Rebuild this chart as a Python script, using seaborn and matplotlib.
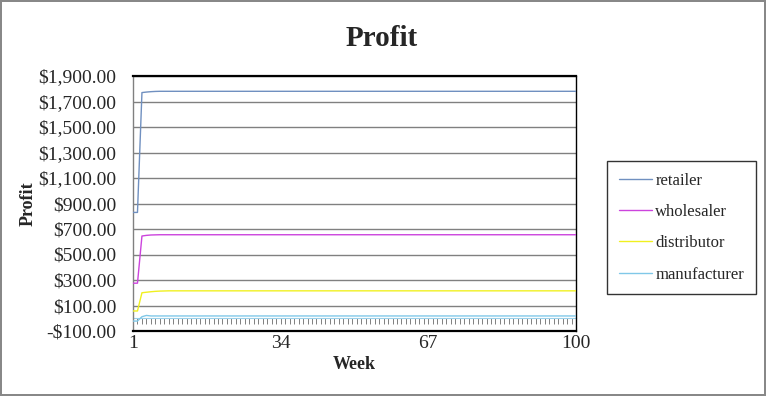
import matplotlib
matplotlib.use("Agg")
import matplotlib.pyplot as plt
import seaborn as sns
import pandas as pd
from matplotlib.ticker import FuncFormatter

weeks = list(range(1, 101))
retailer = [830, 830, 1770, 1774, 1777, 1779, 1780, 1780, 1780, 1780,
            1780, 1780, 1780, 1780, 1780, 1780, 1780, 1780, 1780, 1780,
            1780, 1780, 1780, 1780, 1780, 1780, 1780, 1780, 1780, 1780,
            1780, 1780, 1780, 1780, 1780, 1780, 1780, 1780, 1780, 1780,
            1780, 1780, 1780, 1780, 1780, 1780, 1780, 1780, 1780, 1780,
            1780, 1780, 1780, 1780, 1780, 1780, 1780, 1780, 1780, 1780,
            1780, 1780, 1780, 1780, 1780, 1780, 1780, 1780, 1780, 1780,
            1780, 1780, 1780, 1780, 1780, 1780, 1780, 1780, 1780, 1780,
            1780, 1780, 1780, 1780, 1780, 1780, 1780, 1780, 1780, 1780,
            1780, 1780, 1780, 1780, 1780, 1780, 1780, 1780, 1780, 1780]
wholesaler = [275, 275, 645, 650, 653, 654, 655, 655, 655, 655,
              655, 655, 655, 655, 655, 655, 655, 655, 655, 655,
              655, 655, 655, 655, 655, 655, 655, 655, 655, 655,
              655, 655, 655, 655, 655, 655, 655, 655, 655, 655,
              655, 655, 655, 655, 655, 655, 655, 655, 655, 655,
              655, 655, 655, 655, 655, 655, 655, 655, 655, 655,
              655, 655, 655, 655, 655, 655, 655, 655, 655, 655,
              655, 655, 655, 655, 655, 655, 655, 655, 655, 655,
              655, 655, 655, 655, 655, 655, 655, 655, 655, 655,
              655, 655, 655, 655, 655, 655, 655, 655, 655, 655]
distributor = [57, 57, 200, 204, 208, 211, 213, 214, 215, 215,
               215, 215, 215, 215, 215, 215, 215, 215, 215, 215,
               215, 215, 215, 215, 215, 215, 215, 215, 215, 215,
               215, 215, 215, 215, 215, 215, 215, 215, 215, 215,
               215, 215, 215, 215, 215, 215, 215, 215, 215, 215,
               215, 215, 215, 215, 215, 215, 215, 215, 215, 215,
               215, 215, 215, 215, 215, 215, 215, 215, 215, 215,
               215, 215, 215, 215, 215, 215, 215, 215, 215, 215,
               215, 215, 215, 215, 215, 215, 215, 215, 215, 215,
               215, 215, 215, 215, 215, 215, 215, 215, 215, 215]
manufacturer = [-22, -22, 12, 22, 18, 18, 18, 18, 18, 18,
                18, 18, 18, 18, 18, 18, 18, 18, 18, 18,
                18, 18, 18, 18, 18, 18, 18, 18, 18, 18,
                18, 18, 18, 18, 18, 18, 18, 18, 18, 18,
                18, 18, 18, 18, 18, 18, 18, 18, 18, 18,
                18, 18, 18, 18, 18, 18, 18, 18, 18, 18,
                18, 18, 18, 18, 18, 18, 18, 18, 18, 18,
                18, 18, 18, 18, 18, 18, 18, 18, 18, 18,
                18, 18, 18, 18, 18, 18, 18, 18, 18, 18,
                18, 18, 18, 18, 18, 18, 18, 18, 18, 18]
series_names = ["retailer", "wholesaler", "distributor", "manufacturer"]
colors = ["#7090c0", "#cc44dd", "#f0f020", "#80c8e8"]
x_ticks = [1, 34, 67, 100]
y_ticks = [-100, 100, 300, 500, 700, 900, 1100, 1300, 1500, 1700, 1900]

df = pd.DataFrame({
    "Week": weeks * 4,
    "Profit": retailer + wholesaler + distributor + manufacturer,
    "series": sum([[n] * len(weeks) for n in series_names], []),
})

sns.set_style("white")
plt.rcParams["font.family"] = ["Liberation Serif", "DejaVu Serif"]

fig = plt.figure(figsize=(7.66, 3.96), dpi=100)
fig.patch.set_edgecolor("#888888")
fig.patch.set_linewidth(1.5)
ax = fig.add_axes([133 / 766, 1 - 331 / 396, (576 - 133) / 766, (331 - 76) / 396])

sns.lineplot(data=df, x="Week", y="Profit", hue="series", hue_order=series_names,
             palette=colors, linewidth=1.0, ax=ax, zorder=3)

ax.set_xlim(1, 100)
ax.set_ylim(-100, 1900)
ax.set_xticks(x_ticks)
ax.set_yticks(y_ticks)
ax.yaxis.set_major_formatter(FuncFormatter(
    lambda v, p: ("-$" if v < 0 else "$") + f"{abs(v):,.2f}"))
ax.tick_params(axis="y", direction="out", length=5, width=0.8, color="#808080",
               labelsize=14, pad=7)
ax.tick_params(axis="x", length=0, labelsize=14, pad=3)
ax.grid(axis="y", color="#808080", linewidth=1.0)
ax.set_axisbelow(True)
for s in ["top", "bottom", "right"]:
    ax.spines[s].set_color("black")
ax.spines["top"].set_linewidth(1.6)
ax.spines["bottom"].set_linewidth(1.6)
ax.spines["right"].set_linewidth(1.0)
ax.spines["left"].set_color("#808080")
ax.spines["left"].set_linewidth(1.0)

# zero-crossing category axis with weekly ticks
sec = ax.secondary_xaxis(0.05)
sec.set_xticks(weeks)
sec.tick_params(axis="x", direction="out", length=4, width=0.7, color="#808080",
                labelbottom=False)
sec.spines["bottom"].set_color("#9ad0ea")
sec.spines["bottom"].set_linewidth(0.8)

ax.set_xlabel("Week", fontsize=13, fontweight="bold", labelpad=3)
ax.set_ylabel("Profit", fontsize=13, fontweight="bold")
ax.yaxis.set_label_coords((37 - 133) / 443, 0.5)
fig.suptitle("Profit", x=382 / 766, y=1 - 39 / 396, va="center",
             fontsize=21, fontweight="bold")

leg = ax.legend(title=None, loc="upper left", bbox_to_anchor=(607 / 766, 1 - 161 / 396),
                bbox_transform=fig.transFigure, frameon=True, fancybox=False,
                edgecolor="black", fontsize=12, handlelength=2.0, labelspacing=0.92,
                borderpad=0.7, borderaxespad=0, handletextpad=0.2)
leg.get_frame().set_linewidth(1.0)

fig.savefig("out.png", dpi=100)
